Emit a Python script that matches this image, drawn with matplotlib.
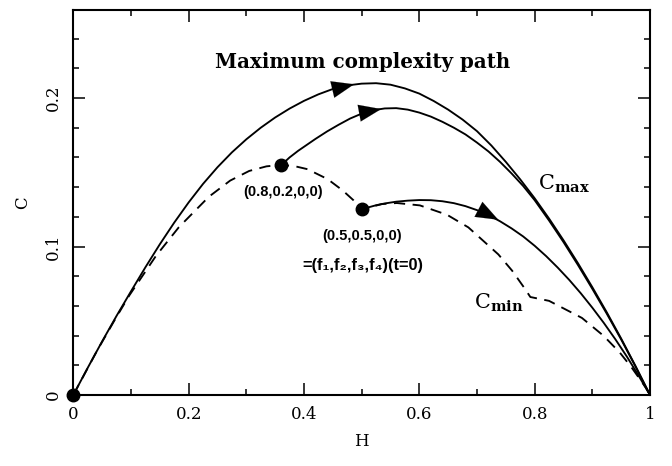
import matplotlib
matplotlib.use("Agg")
import matplotlib.pyplot as plt
from matplotlib.ticker import MultipleLocator, FixedLocator

plt.rcParams['font.family'] = ['DejaVu Serif']
plt.rcParams['mathtext.fontset'] = 'custom'
plt.rcParams['mathtext.rm'] = 'DejaVu Serif'
plt.rcParams['mathtext.bf'] = 'DejaVu Serif:bold'

# ---- data ----
cmax_H = [0.000, 0.025, 0.050, 0.075, 0.100, 0.125, 0.150, 0.175, 0.200, 0.225,
          0.250, 0.275, 0.300, 0.325, 0.350, 0.375, 0.400, 0.425, 0.450, 0.475,
          0.500, 0.525, 0.550, 0.575, 0.600, 0.625, 0.650, 0.675, 0.700, 0.725,
          0.750, 0.775, 0.800, 0.825, 0.850, 0.875, 0.900, 0.925, 0.950, 0.975, 1.000]
cmax_C = [0.000, 0.0183, 0.0361, 0.0533, 0.0698, 0.0860, 0.1015, 0.1161, 0.1297, 0.1422,
          0.1534, 0.1634, 0.1722, 0.1800, 0.1869, 0.1929, 0.1981, 0.2025, 0.2061, 0.2085,
          0.2097, 0.2100, 0.2090, 0.2065, 0.2030, 0.1980, 0.1922, 0.1855, 0.1777, 0.1680,
          0.1570, 0.1452, 0.1325, 0.1188, 0.1042, 0.0888, 0.0726, 0.0557, 0.0380, 0.0194, 0.0]

path2_H = [0.361, 0.375, 0.390, 0.405, 0.420, 0.440, 0.460, 0.480, 0.500, 0.520,
           0.540, 0.560, 0.580, 0.600, 0.620, 0.640, 0.660, 0.680, 0.700, 0.720,
           0.740, 0.760, 0.780, 0.800, 0.825, 0.850, 0.875, 0.900, 0.925, 0.950, 0.975, 1.000]
path2_C = [0.155, 0.160, 0.1645, 0.1685, 0.1725, 0.1775, 0.1820, 0.1862, 0.1895, 0.1918,
           0.1930, 0.1932, 0.1922, 0.1902, 0.1875, 0.1840, 0.1800, 0.1755, 0.1700, 0.1640,
           0.1570, 0.1492, 0.1408, 0.1312, 0.1175, 0.1030, 0.0876, 0.0715, 0.0548, 0.0374, 0.0191, 0.0]

path3_H = [0.500, 0.510, 0.525, 0.540, 0.560, 0.580, 0.600, 0.620, 0.640, 0.660,
           0.680, 0.700, 0.720, 0.740, 0.760, 0.780, 0.800, 0.820, 0.840, 0.860,
           0.880, 0.900, 0.920, 0.940, 0.960, 0.980, 1.000]
path3_C = [0.1250, 0.1262, 0.1278, 0.1290, 0.1302, 0.1309, 0.1313, 0.1312, 0.1305, 0.1292,
           0.1272, 0.1245, 0.1212, 0.1170, 0.1122, 0.1068, 0.1005, 0.0935, 0.0858, 0.0775,
           0.0685, 0.0588, 0.0485, 0.0375, 0.0258, 0.0132, 0.0]

cmin_H = [0.000, 0.040, 0.071, 0.097, 0.143, 0.183, 0.235, 0.272, 0.305, 0.335,
          0.361, 0.385, 0.406, 0.441, 0.467, 0.486, 0.496, 0.500,
          0.535, 0.561, 0.601, 0.648, 0.685, 0.737, 0.761, 0.783, 0.7925,
          0.825, 0.882, 0.920, 0.948, 0.968, 0.993, 1.000]
cmin_C = [0.000, 0.0290, 0.0500, 0.0670, 0.0935, 0.1130, 0.1335, 0.1444, 0.1509, 0.1540,
          0.1550, 0.1540, 0.1521, 0.1454, 0.1378, 0.1311, 0.1266, 0.1250,
          0.1286, 0.1293, 0.1277, 0.1214, 0.1129, 0.0947, 0.0837, 0.0716, 0.0660,
          0.0634, 0.0519, 0.0397, 0.0284, 0.0186, 0.0048, 0.0]

dots_H = [0.0, 0.361, 0.50]
dots_C = [0.0, 0.155, 0.125]

# arrow heads: (tail H, tail C, tip H, tip C)
arrows = [
    (0.455, 0.2063, 0.487, 0.2093),
    (0.505, 0.1905, 0.534, 0.1926),
    (0.715, 0.1225, 0.737, 0.1180),
]

xticks = [0, 0.2, 0.4, 0.6, 0.8, 1.0]
xtick_labels = ["0", "0.2", "0.4", "0.6", "0.8", "1"]
yticks = [0, 0.1, 0.2]
ytick_labels = ["0", "0.1", "0.2"]

# ---- figure ----
fig = plt.figure(figsize=(6.72, 4.66), dpi=100)
ax = fig.add_axes([73.3 / 672, 71 / 466, (650 - 73.3) / 672, 385 / 466])

lw = 1.35
ax.plot(cmax_H, cmax_C, color='black', lw=lw)
ax.plot(path2_H, path2_C, color='black', lw=lw)
ax.plot(path3_H, path3_C, color='black', lw=lw)
ax.plot(cmin_H, cmin_C, color='black', lw=lw, dashes=[6, 4])
ax.plot(dots_H, dots_C, 'o', color='black', markersize=9, clip_on=False, zorder=5)

for (h0, c0, h1, c1) in arrows:
    ax.annotate('', xy=(h1, c1), xytext=(h0, c0),
                arrowprops=dict(arrowstyle='-|>,head_length=1.0,head_width=0.38',
                                color='black', lw=0.1, shrinkA=0, shrinkB=0,
                                mutation_scale=16))

ax.set_xlim(0, 1)
ax.set_ylim(0, 0.2593)

ax.xaxis.set_major_locator(FixedLocator(xticks))
ax.set_xticklabels(xtick_labels)
ax.xaxis.set_minor_locator(MultipleLocator(0.1))
ax.yaxis.set_major_locator(FixedLocator(yticks))
ax.set_yticklabels(ytick_labels)
ax.yaxis.set_minor_locator(MultipleLocator(0.02))

ax.tick_params(which='both', direction='in', top=True, right=True, width=1.1)
ax.tick_params(which='major', length=8.5, labelsize=12, pad=8)
ax.tick_params(which='minor', length=4.3)
for lab in ax.get_yticklabels():
    lab.set_rotation(90)
    lab.set_va('center')
for sp in ax.spines.values():
    sp.set_linewidth(1.5)

ax.set_xlabel('H', fontsize=12, labelpad=7)
ax.set_ylabel('C', fontsize=12, labelpad=10)

ax.text(0.502, 0.224, 'Maximum complexity path', ha='center', va='center',
        fontsize=14.3, fontweight='bold')
sans_bold = ['Liberation Sans', 'DejaVu Sans']
ax.text(0.363, 0.137, '(0.8,0.2,0,0)', ha='center', va='center',
        fontsize=10.5, fontweight='bold', family=sans_bold)
ax.text(0.500, 0.107, '(0.5,0.5,0,0)', ha='center', va='center',
        fontsize=10.5, fontweight='bold', family=sans_bold)
ax.text(0.502, 0.0875, '=(f\u2081,f\u2082,f\u2083,f\u2084)(t=0)', ha='center', va='center',
        fontsize=11.8, fontweight='bold', family=sans_bold)
ax.text(0.805, 0.142, r'$\mathrm{C}_{\mathbf{max}}$', ha='left', va='center', fontsize=15)
ax.text(0.695, 0.062, r'$\mathrm{C}_{\mathbf{min}}$', ha='left', va='center', fontsize=15)

fig.savefig('out.png', dpi=100)
